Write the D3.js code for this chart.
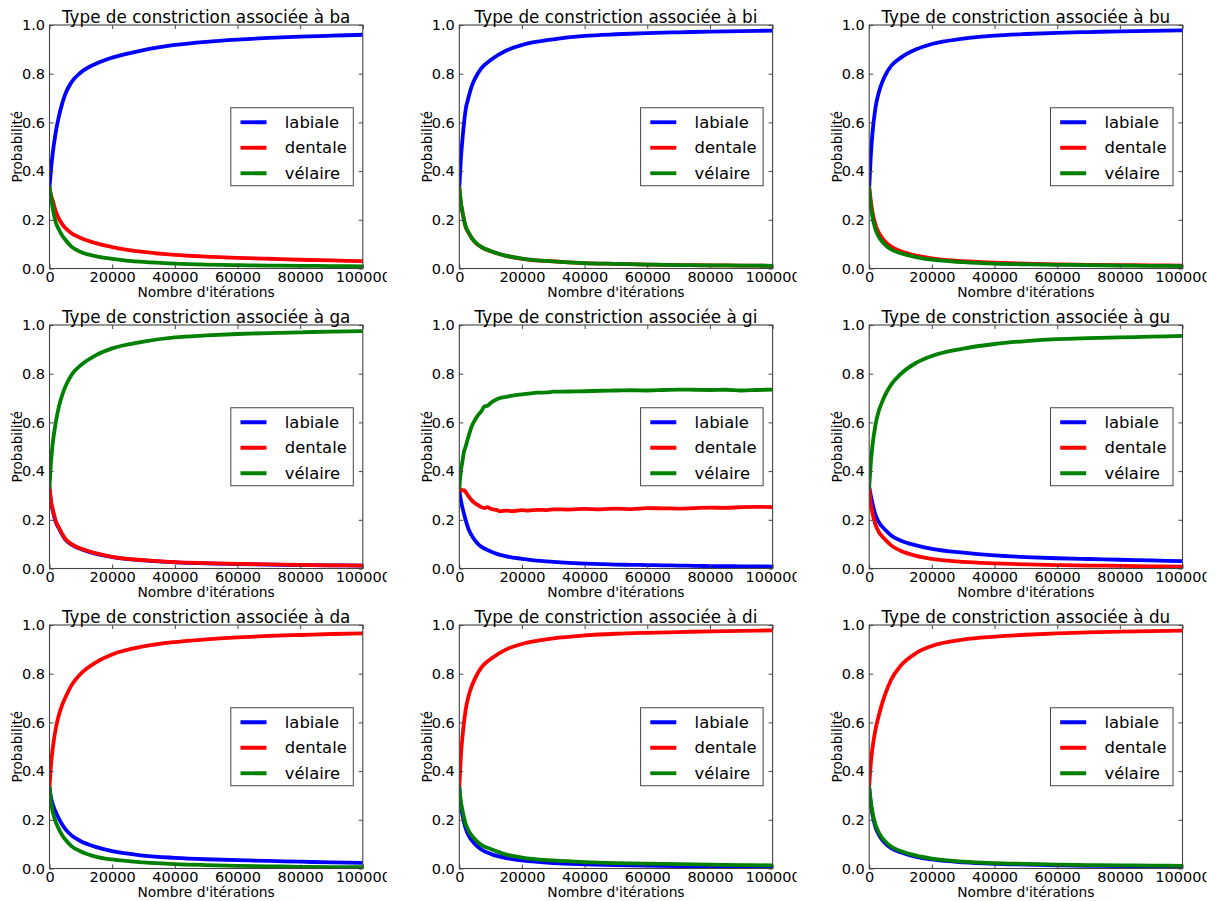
<!DOCTYPE html>
<html>
<head>
<meta charset="utf-8">
<script src="https://cdn.jsdelivr.net/npm/d3@7"></script>
<style>
  html, body { margin: 0; padding: 0; background: #ffffff; }
  svg { display: block; }
  text { font-family: "DejaVu Sans", sans-serif; fill: #000; }
</style>
</head>
<body>
<svg id="chart" width="1218" height="901"></svg>
<script>
// ---------------- DATA ----------------
const seriesNames = ["labiale", "dentale", "vélaire"];
const syllables = ["ba", "bi", "bu", "ga", "gi", "gu", "da", "di", "du"];
const xTicks = [0, 20000, 40000, 60000, 80000, 100000];
const yTicks = [0.0, 0.2, 0.4, 0.6, 0.8, 1.0];

const iterations = [0, 500, 1000, 2000, 3000, 4000, 5000, 7000, 10000, 15000, 20000, 30000, 40000, 50000, 60000, 70000, 80000, 90000, 100000];

const ba_labiale = [0.333, 0.41, 0.47, 0.56, 0.625, 0.675, 0.715, 0.765, 0.805, 0.842, 0.866, 0.897, 0.918, 0.931, 0.94, 0.947, 0.952, 0.956, 0.96];
const ba_dentale = [0.333, 0.30, 0.28, 0.235, 0.205, 0.183, 0.167, 0.145, 0.125, 0.103, 0.088, 0.068, 0.056, 0.049, 0.044, 0.04, 0.036, 0.033, 0.03];
const ba_velaire = [0.333, 0.29, 0.25, 0.19, 0.16, 0.137, 0.119, 0.09, 0.068, 0.05, 0.04, 0.027, 0.02, 0.016, 0.014, 0.012, 0.011, 0.01, 0.009];

const bi_labiale = [0.333, 0.45, 0.53, 0.65, 0.705, 0.75, 0.78, 0.822, 0.856, 0.895, 0.918, 0.941, 0.955, 0.962, 0.967, 0.970, 0.973, 0.975, 0.977];
const bi_dentale = [0.333, 0.27, 0.232, 0.172, 0.146, 0.124, 0.108, 0.088, 0.071, 0.052, 0.04, 0.029, 0.022, 0.019, 0.016, 0.014, 0.013, 0.012, 0.011];
const bi_velaire = [0.333, 0.272, 0.234, 0.174, 0.147, 0.125, 0.110, 0.089, 0.072, 0.052, 0.041, 0.029, 0.022, 0.019, 0.016, 0.014, 0.013, 0.012, 0.011];

const bu_labiale = [0.333, 0.46, 0.55, 0.66, 0.72, 0.76, 0.79, 0.832, 0.865, 0.9, 0.922, 0.944, 0.956, 0.963, 0.968, 0.971, 0.974, 0.976, 0.978];
const bu_dentale = [0.333, 0.28, 0.235, 0.18, 0.148, 0.128, 0.112, 0.09, 0.072, 0.053, 0.042, 0.03, 0.024, 0.02, 0.017, 0.015, 0.014, 0.013, 0.012];
const bu_velaire = [0.333, 0.26, 0.215, 0.16, 0.132, 0.112, 0.098, 0.078, 0.063, 0.047, 0.036, 0.026, 0.02, 0.017, 0.015, 0.014, 0.012, 0.011, 0.01];

const ga_labiale = [0.333, 0.27, 0.24, 0.19, 0.165, 0.14, 0.12, 0.098, 0.08, 0.06, 0.047, 0.033, 0.025, 0.021, 0.018, 0.016, 0.014, 0.013, 0.012];
const ga_dentale = [0.333, 0.275, 0.245, 0.195, 0.168, 0.143, 0.123, 0.1, 0.082, 0.062, 0.048, 0.034, 0.026, 0.022, 0.019, 0.017, 0.015, 0.013, 0.012];
const ga_velaire = [0.333, 0.44, 0.51, 0.6, 0.665, 0.71, 0.745, 0.795, 0.835, 0.877, 0.904, 0.932, 0.949, 0.957, 0.963, 0.967, 0.970, 0.973, 0.975];

const iterationsGi = [0, 500, 1000, 1500, 2000, 3000, 4000, 5000, 6000, 7000, 8000, 9000, 10000, 12000, 13000, 15000, 17000, 20000, 22000, 25000, 28000, 30000, 35000, 40000, 45000, 50000, 55000, 60000, 65000, 70000, 75000, 80000, 85000, 90000, 95000, 100000];
const gi_labiale = [0.32, 0.28, 0.25, 0.225, 0.2, 0.16, 0.135, 0.115, 0.1, 0.09, 0.082, 0.076, 0.07, 0.06, 0.056, 0.05, 0.045, 0.04, 0.036, 0.032, 0.029, 0.027, 0.023, 0.02, 0.018, 0.016, 0.015, 0.014, 0.013, 0.012, 0.011, 0.01, 0.0095, 0.009, 0.0085, 0.008];
const gi_dentale = [0.32, 0.325, 0.32, 0.322, 0.315, 0.295, 0.28, 0.268, 0.26, 0.252, 0.248, 0.252, 0.245, 0.24, 0.235, 0.238, 0.236, 0.24, 0.238, 0.241, 0.24, 0.243, 0.242, 0.245, 0.243, 0.246, 0.244, 0.248, 0.247, 0.246, 0.248, 0.25, 0.249, 0.252, 0.253, 0.252];
const gi_velaire = [0.33, 0.4, 0.44, 0.48, 0.5, 0.545, 0.585, 0.61, 0.63, 0.645, 0.665, 0.668, 0.68, 0.695, 0.70, 0.705, 0.71, 0.715, 0.718, 0.722, 0.723, 0.726, 0.727, 0.728, 0.73, 0.731, 0.732, 0.731, 0.733, 0.735, 0.734, 0.733, 0.734, 0.731, 0.733, 0.735];

const gu_labiale = [0.333, 0.30, 0.27, 0.22, 0.192, 0.174, 0.16, 0.136, 0.115, 0.095, 0.081, 0.065, 0.054, 0.047, 0.042, 0.039, 0.036, 0.033, 0.03];
const gu_dentale = [0.333, 0.27, 0.23, 0.18, 0.152, 0.134, 0.12, 0.095, 0.073, 0.052, 0.04, 0.027, 0.021, 0.017, 0.014, 0.012, 0.011, 0.009, 0.008];
const gu_velaire = [0.333, 0.43, 0.50, 0.59, 0.645, 0.68, 0.71, 0.755, 0.798, 0.845, 0.873, 0.903, 0.922, 0.934, 0.942, 0.946, 0.949, 0.952, 0.955];

const da_labiale = [0.333, 0.29, 0.265, 0.232, 0.205, 0.182, 0.163, 0.136, 0.112, 0.088, 0.071, 0.053, 0.044, 0.038, 0.034, 0.031, 0.028, 0.025, 0.023];
const da_dentale = [0.333, 0.43, 0.49, 0.575, 0.63, 0.67, 0.70, 0.752, 0.80, 0.848, 0.879, 0.912, 0.93, 0.941, 0.949, 0.955, 0.959, 0.963, 0.966];
const da_velaire = [0.333, 0.27, 0.235, 0.19, 0.162, 0.138, 0.12, 0.092, 0.07, 0.048, 0.037, 0.025, 0.018, 0.014, 0.011, 0.009, 0.007, 0.006, 0.006];

const di_labiale = [0.333, 0.26, 0.22, 0.165, 0.135, 0.115, 0.1, 0.078, 0.06, 0.043, 0.033, 0.022, 0.017, 0.014, 0.012, 0.01, 0.009, 0.008, 0.007];
const di_dentale = [0.333, 0.46, 0.54, 0.65, 0.71, 0.75, 0.78, 0.825, 0.86, 0.9, 0.922, 0.945, 0.957, 0.964, 0.968, 0.971, 0.974, 0.976, 0.978];
const di_velaire = [0.333, 0.275, 0.24, 0.185, 0.155, 0.135, 0.12, 0.097, 0.08, 0.057, 0.045, 0.033, 0.026, 0.022, 0.02, 0.018, 0.016, 0.014, 0.013];

const du_labiale = [0.333, 0.27, 0.225, 0.17, 0.14, 0.12, 0.105, 0.083, 0.067, 0.048, 0.037, 0.025, 0.019, 0.016, 0.013, 0.011, 0.01, 0.009, 0.008];
const du_dentale = [0.34, 0.43, 0.49, 0.57, 0.625, 0.672, 0.712, 0.775, 0.832, 0.885, 0.914, 0.94, 0.952, 0.96, 0.966, 0.970, 0.973, 0.975, 0.977];
const du_velaire = [0.333, 0.275, 0.235, 0.18, 0.15, 0.128, 0.113, 0.09, 0.072, 0.053, 0.041, 0.028, 0.022, 0.019, 0.016, 0.014, 0.013, 0.012, 0.011];

// ---------------- LAYOUT ----------------
const colors = ["#0000ff", "#ff0000", "#008000"];
const colLeft = [49.5, 459.3, 869.2];
const rowTop = [25, 325, 625];
const W = 313.3, H = 243.5;

const panelData = {
  ba: [iterations, [ba_labiale, ba_dentale, ba_velaire]],
  bi: [iterations, [bi_labiale, bi_dentale, bi_velaire]],
  bu: [iterations, [bu_labiale, bu_dentale, bu_velaire]],
  ga: [iterations, [ga_labiale, ga_dentale, ga_velaire]],
  gi: [iterationsGi, [gi_labiale, gi_dentale, gi_velaire]],
  gu: [iterations, [gu_labiale, gu_dentale, gu_velaire]],
  da: [iterations, [da_labiale, da_dentale, da_velaire]],
  di: [iterations, [di_labiale, di_dentale, di_velaire]],
  du: [iterations, [du_labiale, du_dentale, du_velaire]]
};

const svg = d3.select("#chart");
const x = d3.scaleLinear().domain([0, 100000]).range([0, W]);
const y = d3.scaleLinear().domain([0, 1]).range([H, 0]);
const frameColor = "#444";
const textColor = "#1a1a1a";

syllables.forEach((syl, i) => {
  const c = i % 3, r = Math.floor(i / 3);
  const g = svg.append("g").attr("transform", `translate(${colLeft[c]},${rowTop[r]})`);

  const clipId = "clip" + i, labClipId = "lclip" + i;
  const defs = svg.append("defs");
  defs.append("clipPath").attr("id", clipId)
    .append("rect").attr("x", 0).attr("y", 0).attr("width", W).attr("height", H);
  defs.append("clipPath").attr("id", labClipId)
    .append("rect").attr("x", -60).attr("y", -40).attr("width", W + 84).attr("height", H + 80);

  const gc = g.append("g").attr("clip-path", `url(#${labClipId})`);

  gc.append("rect").attr("width", W).attr("height", H).attr("fill", "#fff");

  const [xs, series] = panelData[syl];
  const line = d3.line()
    .x((d, k) => x(xs[k]))
    .y(d => y(d))
    .curve(d3.curveMonotoneX);

  const lines = gc.append("g").attr("clip-path", `url(#${clipId})`);
  series.forEach((vals, s) => {
    lines.append("path")
      .attr("d", line(vals))
      .attr("fill", "none")
      .attr("stroke", colors[s])
      .attr("stroke-width", 3.8)
      .attr("stroke-linejoin", "round")
      .attr("stroke-linecap", "round");
  });

  // axes with inward ticks
  const ax = gc.append("g").attr("transform", `translate(0,${H})`)
    .call(d3.axisBottom(x).tickValues(xTicks).tickFormat(d3.format("d")).tickSize(-4).tickPadding(3.5));
  const ay = gc.append("g")
    .call(d3.axisLeft(y).tickValues(yTicks).tickFormat(d3.format(".1f")).tickSize(-4).tickPadding(4.5));
  const at = gc.append("g")
    .call(d3.axisTop(x).tickValues(xTicks).tickFormat("").tickSize(-4));
  const ar = gc.append("g").attr("transform", `translate(${W},0)`)
    .call(d3.axisRight(y).tickValues(yTicks).tickFormat("").tickSize(-4));
  [ax, ay, at, ar].forEach(a => {
    a.select(".domain").remove();
    a.selectAll(".tick line").attr("stroke", frameColor).attr("stroke-width", 1);
    a.selectAll(".tick text")
      .style("font-family", '"DejaVu Sans", sans-serif')
      .style("font-size", "14.5px")
      .attr("fill", textColor);
  });

  gc.append("rect").attr("width", W).attr("height", H)
    .attr("fill", "none").attr("stroke", frameColor).attr("stroke-width", 1.1);

  // title
  gc.append("text")
    .attr("x", W / 2).attr("y", -2)
    .attr("text-anchor", "middle")
    .style("font-size", "16.8px")
    .attr("fill", textColor)
    .text("Type de constriction associée à " + syl);

  // x label
  gc.append("text")
    .attr("x", W / 2).attr("y", H + 28)
    .attr("text-anchor", "middle")
    .style("font-size", "13.8px")
    .attr("fill", textColor)
    .text("Nombre d'itérations");

  // y label
  gc.append("text")
    .attr("transform", `translate(-27.5,${H / 2}) rotate(-90)`)
    .attr("text-anchor", "middle")
    .style("font-size", "13.5px")
    .attr("fill", textColor)
    .text("Probabilité");

  // legend
  const LW = 122.5, LH = 78;
  const lg = gc.append("g").attr("transform", `translate(${W - 9.5 - LW},${H / 2 - LH / 2})`);
  lg.append("rect").attr("width", LW).attr("height", LH)
    .attr("fill", "#fff").attr("stroke", frameColor).attr("stroke-width", 1);
  seriesNames.forEach((name, s) => {
    const yy = 14.5 + s * 25.5;
    lg.append("line")
      .attr("x1", 9.7).attr("x2", 35.7).attr("y1", yy).attr("y2", yy)
      .attr("stroke", colors[s]).attr("stroke-width", 3.8);
    lg.append("text")
      .attr("x", 54).attr("y", yy + 5.6)
      .style("font-size", "16.4px")
      .attr("fill", textColor)
      .text(name);
  });
});
</script>
</body>
</html>
